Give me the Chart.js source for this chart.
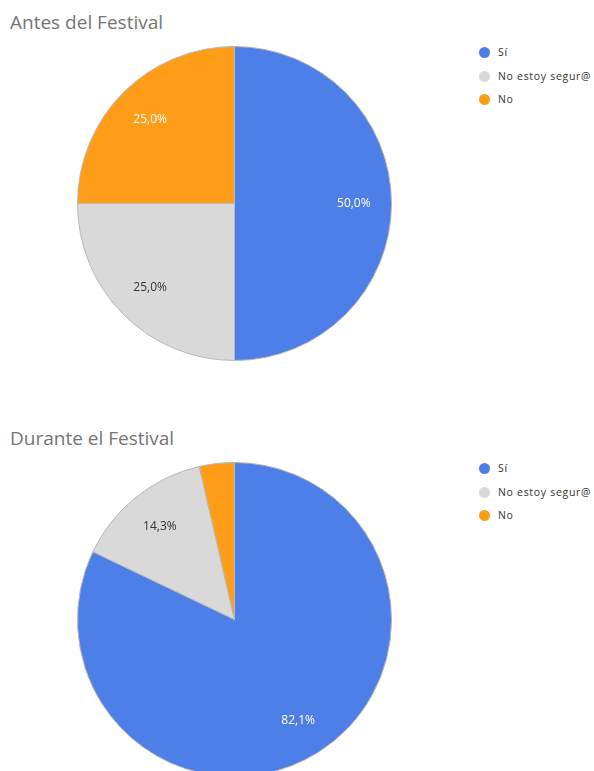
<!DOCTYPE html>
<html>
<head>
<meta charset="utf-8">
<script src="https://cdn.jsdelivr.net/npm/chart.js@4"></script>
<style>
  body { margin: 0; background: #fff; width: 594px; height: 771px; overflow: hidden; position: relative; font-family: "Open Sans", sans-serif; }
  .title { position: absolute; left: 10px; font-size: 19px; color: #757575; }
  .pie { position: absolute; left: 77px; }
  .legend { position: absolute; left: 479px; font-size: 10.5px; color: #333; letter-spacing: 0.7px; }
  .legend div { height: 23.5px; line-height: 12px; white-space: nowrap; }
  .legend span { display: inline-block; width: 11px; height: 11px; border-radius: 50%; vertical-align: -2px; margin-right: 8px; }
</style>
</head>
<body>
<div class="title" style="top: 9px;">Antes del Festival</div>
<canvas id="chart-antes" class="pie" width="315" height="315" style="top: 46px;"></canvas>
<div id="legend-antes" class="legend" style="top: 46px;"></div>

<div class="title" style="top: 425px;">Durante el Festival</div>
<canvas id="chart-durante" class="pie" width="315" height="315" style="top: 462px;"></canvas>
<div id="legend-durante" class="legend" style="top: 462px;"></div>

<script>
const categories = ['Sí', 'No estoy segur@', 'No'];
const antesValues = [50.0, 25.0, 25.0];
const duranteValues = [82.1, 14.3, 3.6];

const sliceColors = ['#4e7ee8', '#d9d9d9', '#ff9d19'];
const labelColors = ['#ffffff', '#333333', '#ffffff'];

// draws the percentage inside each slice
const sliceLabels = {
    id: 'sliceLabels',
    afterDatasetsDraw(chart) {
        const ctx = chart.ctx;
        const meta = chart.getDatasetMeta(0);
        const data = chart.data.datasets[0].data;
        const total = data.reduce((a, b) => a + b, 0);
        ctx.save();
        ctx.font = '12px "Open Sans", sans-serif';
        ctx.textAlign = 'center';
        ctx.textBaseline = 'middle';
        meta.data.forEach((arc, i) => {
            const pct = data[i] / total * 100;
            if (pct < 5) return;
            const mid = (arc.startAngle + arc.endAngle) / 2;
            const r = arc.outerRadius * 0.76;
            ctx.fillStyle = labelColors[i];
            ctx.fillText(pct.toFixed(1).replace('.', ',') + '%', arc.x + Math.cos(mid) * r, arc.y + Math.sin(mid) * r);
        });
        ctx.restore();
    }
};

function makePie(canvasId, values) {
    return new Chart(document.getElementById(canvasId), {
        type: 'pie',
        data: {
            labels: categories,
            datasets: [{
                data: values,
                backgroundColor: sliceColors,
                borderColor: '#b8b8b8',
                borderWidth: 1
            }]
        },
        options: {
            responsive: false,
            animation: false,
            layout: { padding: 0 },
            plugins: {
                legend: { display: false },
                tooltip: { enabled: false }
            }
        },
        plugins: [sliceLabels]
    });
}

function makeLegend(id) {
    const el = document.getElementById(id);
    categories.forEach((name, i) => {
        const row = document.createElement('div');
        row.innerHTML = `<span style="background:${sliceColors[i]}"></span>${name}`;
        el.appendChild(row);
    });
}

makePie('chart-antes', antesValues);
makePie('chart-durante', duranteValues);
makeLegend('legend-antes');
makeLegend('legend-durante');
</script>
</body>
</html>
